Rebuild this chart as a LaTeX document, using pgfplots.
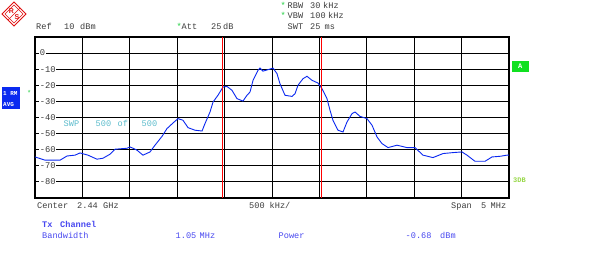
\documentclass[border=0pt]{standalone}
\usepackage{fontspec}
\setmainfont{Liberation Mono}
\newfontfamily\sansf{Liberation Sans}
\usepackage{pgfplots}
\pgfplotsset{compat=1.18}
\definecolor{txtgray}{HTML}{3C3C3C}
\definecolor{trace}{HTML}{0A28F0}
\definecolor{chblue}{HTML}{4848F0}
\definecolor{swp}{HTML}{5CBCCC}
\definecolor{boxblue}{HTML}{0A2AF0}
\definecolor{agreen}{HTML}{10E020}
\definecolor{dbgreen}{HTML}{98D848}
\definecolor{astgreen}{HTML}{20D040}
\definecolor{logored}{HTML}{E01010}
\newcommand\T[4]{\node[anchor=base west, inner sep=0pt, text=#1, font=\fontsize{8.6}{10}\selectfont] at (#2,{275-#3}) {#4};}
\begin{document}
\begin{tikzpicture}[x=1pt,y=1pt]
\useasboundingbox (0,0) rectangle (605,275);
\fill[white] (0,0) rectangle (605,275);
\begin{axis}[
  at={(35pt,77pt)}, anchor=south west,
  scale only axis, width=474pt, height=161pt,
  xmin=-2.5, xmax=2.5, ymin=-90, ymax=10,
  xtick={-2,-1.5,-1,-0.5,0,0.5,1,1.5,2},
  ytick={-80,-70,-60,-50,-40,-30,-20,-10,0},
  xticklabels={},
  grid=major,
  major grid style={black, line width=1pt},
  axis line style={black, line width=2.5pt},
  major tick length=0pt,
  /pgf/number format/assume math mode=true,
  yticklabel style={anchor=west, xshift=4pt, fill=white, inner sep=0.6pt,
    font=\fontsize{8.8}{10}\selectfont, text=txtgray},
]
\addplot[trace, line width=0.9pt, mark=none] coordinates {
(-2.500,-64.5) (-2.468,-65.1) (-2.395,-66.5) (-2.236,-66.5) (-2.162,-63.9)
(-2.078,-63.4) (-2.025,-62.0) (-1.941,-63.4) (-1.846,-65.9) (-1.783,-65.3)
(-1.709,-62.8) (-1.656,-59.7) (-1.529,-59.1) (-1.498,-58.3) (-1.466,-59.1)
(-1.424,-60.3) (-1.361,-63.4) (-1.287,-61.4) (-1.234,-57.2) (-1.160,-51.7)
(-1.108,-46.9) (-1.044,-43.4) (-0.992,-40.7) (-0.939,-41.7) (-0.886,-46.3)
(-0.812,-47.9) (-0.738,-48.4) (-0.707,-43.8) (-0.654,-36.6) (-0.622,-30.4)
(-0.570,-26.2) (-0.517,-21.1) (-0.475,-20.7) (-0.422,-23.1) (-0.369,-28.3)
(-0.306,-29.8) (-0.264,-26.2) (-0.232,-24.2) (-0.200,-16.9) (-0.148,-10.7)
(-0.127,-9.3) (-0.095,-11.2) (-0.042,-10.3) (0.011,-9.3) (0.053,-12.8)
(0.084,-19.0) (0.137,-26.2) (0.211,-26.9) (0.243,-25.2) (0.274,-20.0)
(0.327,-15.9) (0.369,-14.4) (0.422,-16.9) (0.485,-18.6) (0.527,-22.1)
(0.580,-28.3) (0.612,-35.5) (0.643,-41.7) (0.696,-47.9) (0.749,-49.0)
(0.791,-42.8) (0.844,-37.6) (0.876,-36.6) (0.928,-39.3) (1.002,-40.7)
(1.055,-44.8) (1.108,-52.1) (1.160,-56.2) (1.224,-58.7) (1.319,-57.2)
(1.424,-58.7) (1.508,-58.7) (1.593,-63.4) (1.698,-64.9) (1.804,-62.4)
(1.909,-61.8) (2.004,-61.4) (2.057,-63.4) (2.141,-67.2) (2.247,-67.2)
(2.321,-64.5) (2.405,-64.1) (2.479,-63.4) (2.500,-63.4)
};
\addplot[red, line width=1.3pt, mark=none] coordinates {(-0.525,-90) (-0.525,10)};
\addplot[red, line width=1.3pt, mark=none] coordinates {(0.525,-90) (0.525,10)};
\end{axis}
% header
\T{txtgray}{36}{30}{Ref}
\T{txtgray}{64}{30}{10}
\T{txtgray}{80}{30}{dBm}
\T{astgreen}{176.5}{30}{*}
\T{txtgray}{181.5}{30}{Att}
\T{txtgray}{211}{30}{25}
\T{txtgray}{223}{30}{dB}
\T{astgreen}{280.5}{8.5}{*}
\T{txtgray}{287.5}{8.5}{RBW}
\T{txtgray}{310}{8.5}{30}
\T{txtgray}{323}{8.5}{kHz}
\T{astgreen}{280.5}{19}{*}
\T{txtgray}{287.5}{19}{VBW}
\T{txtgray}{310}{19}{100}
\T{txtgray}{328}{19}{kHz}
\T{txtgray}{287.5}{29.5}{SWT}
\T{txtgray}{310}{29.5}{25}
\T{txtgray}{324.5}{29.5}{ms}
% sweep text
\T{swp}{63.5}{126.5}{SWP}
\T{swp}{95.5}{126.5}{500}
\T{swp}{117.5}{126.5}{of}
\T{swp}{141.5}{126.5}{500}
% footer
\T{txtgray}{37}{208.5}{Center}
\T{txtgray}{77}{208.5}{2.44}
\T{txtgray}{103}{208.5}{GHz}
\T{txtgray}{249}{208.5}{500}
\T{txtgray}{269.5}{208.5}{kHz/}
\T{txtgray}{451}{208.5}{Span}
\T{txtgray}{481}{208.5}{5}
\T{txtgray}{490.5}{208.5}{MHz}
\T{chblue}{42}{227.5}{\textbf{Tx}}
\T{chblue}{60}{227.5}{\textbf{Channel}}
\T{chblue}{42}{238.5}{Bandwidth}
\T{chblue}{175.5}{238.5}{1.05}
\T{chblue}{199.5}{238.5}{MHz}
\T{chblue}{278.5}{238.5}{Power}
\T{chblue}{405.5}{238.5}{-0.68}
\T{chblue}{440}{238.5}{dBm}
% left trace box
\fill[boxblue] (2,{275-87}) rectangle (20,{275-109});
\node[anchor=base west, inner sep=0pt, text=white, font=\fontsize{6}{7}\selectfont\bfseries] at (3,{275-96}) {1 RM};
\node[anchor=base west, inner sep=0pt, text=white, font=\fontsize{6}{7}\selectfont\bfseries] at (3,{275-106.5}) {AVG};
\node[anchor=base west, inner sep=0pt, text=astgreen, font=\fontsize{7}{8}\selectfont] at (27,{275-96}) {*};
% right markers
\fill[agreen] (511.5,{275-61}) rectangle (529,{275-72});
\node[text=white, inner sep=0pt, font=\fontsize{7}{8}\selectfont\bfseries] at (520.2,{275-66.5}) {A};
\node[anchor=base west, inner sep=0pt, text=dbgreen, font=\fontsize{7}{8}\selectfont\bfseries] at (513,{275-183}) {3DB};
% logo
\draw[logored, line width=0.9pt] (14,273) -- (26,261) -- (14,249) -- (2,261) -- cycle;
\draw[logored, line width=0.6pt] (14,270) -- (23,261) -- (14,252) -- (5,261) -- cycle;
\draw[logored, line width=0.6pt] (8,255) -- (20,267);
\node[text=logored, inner sep=0pt, font=\sansf\fontsize{7}{8}\selectfont\bfseries] at (11.5,264) {R};
\node[text=logored, inner sep=0pt, font=\sansf\fontsize{7}{8}\selectfont\bfseries] at (17,257.5) {S};
\end{tikzpicture}
\end{document}
